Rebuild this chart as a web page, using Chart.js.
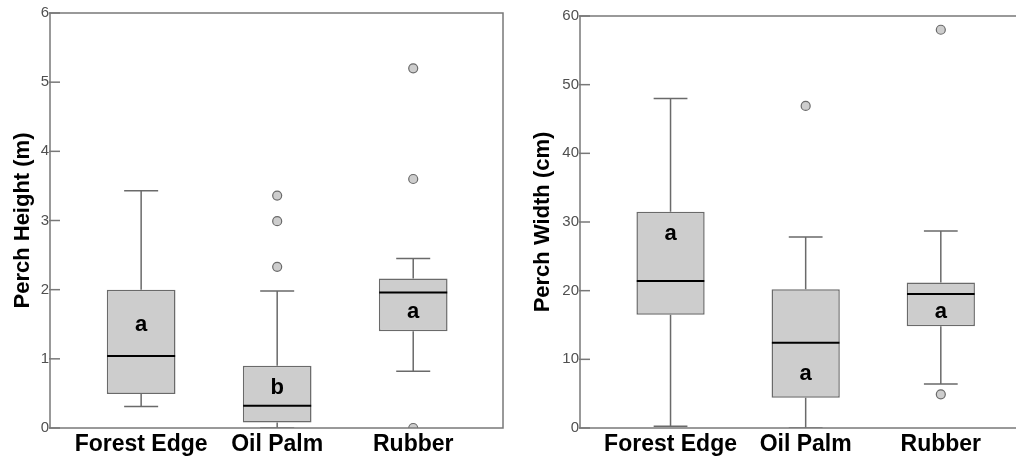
<!DOCTYPE html>
<html>
<head>
<meta charset="utf-8">
<script src="https://cdn.jsdelivr.net/npm/chart.js@4.4.1/dist/chart.umd.min.js"></script>
<style>
body{margin:0;background:#fff;overflow:hidden;width:1016px;height:457px;position:relative}
canvas{position:absolute;top:0}
#graficoAltura{left:0}
#graficoAncho{left:510px}
</style>
</head>
<body>
<canvas id="graficoAltura" width="510" height="457"></canvas>
<canvas id="graficoAncho" width="530" height="457"></canvas>
<script>
const categorias = ['Forest Edge', 'Oil Palm', 'Rubber'];

// Perch Height (m)
const alturaMin = [0.31, 0.0, 0.82];
const alturaQ1 = [0.49, 0.08, 1.40];
const alturaMediana = [1.04, 0.32, 1.96];
const alturaQ3 = [2.0, 0.90, 2.16];
const alturaMax = [3.43, 1.98, 2.45];
const alturaAtipicos = [[], [2.33, 2.99, 3.36], [0.0, 3.60, 5.20]];
const alturaLetras = ['a', 'b', 'a'];
const alturaLetrasY = [1.49, 0.58, 1.68];
const alturaTicks = [0, 1, 2, 3, 4, 5, 6];

// Perch Width (cm)
const anchoMin = [0.25, 0.0, 6.4];
const anchoQ1 = [16.5, 4.4, 14.8];
const anchoMediana = [21.4, 12.4, 19.5];
const anchoQ3 = [31.5, 20.2, 21.2];
const anchoMax = [48.0, 27.8, 28.7];
const anchoAtipicos = [[], [46.9], [4.9, 58.0]];
const anchoLetras = ['a', 'a', 'a'];
const anchoLetrasY = [28.3, 7.9, 16.9];
const anchoTicks = [0, 10, 20, 30, 40, 50, 60];

const fuente = "'Liberation Sans', Arial, sans-serif";
Chart.defaults.font.family = fuente;

// marco, ticks hacia adentro y letras
const marcoPlugin = {
    id: 'marco',
    afterDatasetsDraw(chart, args, opts) {
        const {ctx, chartArea: a, scales: {x, y}} = chart;
        ctx.save();
        ctx.font = 'bold 22px ' + fuente;
        ctx.fillStyle = '#000';
        ctx.textAlign = 'center';
        ctx.textBaseline = 'middle';
        opts.letras.forEach((l, i) => {
            ctx.fillText(l, x.getPixelForValue(i), y.getPixelForValue(opts.letrasY[i]));
        });
        ctx.strokeStyle = '#787878';
        ctx.lineWidth = 1.5;
        ctx.strokeRect(a.left, a.top, a.right - a.left, a.bottom - a.top);
        y.ticks.forEach(t => {
            const py = y.getPixelForValue(t.value);
            ctx.beginPath();
            ctx.moveTo(a.left - 1, py);
            ctx.lineTo(a.left + 10, py);
            ctx.stroke();
        });
        ctx.restore();
    }
};

function crearBoxplot(id, titulo, min, q1, med, q3, max, atipicos, letras, letrasY, ticks, cfg) {
    const cajas = categorias.map((c, i) => ({x: i, y: [q1[i], q3[i]]}));
    const bigotes = [];
    const medianas = [];
    const puntos = [];
    categorias.forEach((c, i) => {
        bigotes.push({x: i, y: q3[i]}, {x: i, y: max[i]}, {x: i, y: null});
        bigotes.push({x: i, y: q1[i]}, {x: i, y: min[i]}, {x: i, y: null});
        bigotes.push({x: i - 0.125, y: max[i]}, {x: i + 0.125, y: max[i]}, {x: i, y: null});
        bigotes.push({x: i - 0.125, y: min[i]}, {x: i + 0.125, y: min[i]}, {x: i, y: null});
        medianas.push({x: i - 0.25, y: med[i]}, {x: i + 0.25, y: med[i]}, {x: i, y: null});
        atipicos[i].forEach(v => puntos.push({x: i, y: v}));
    });

    return new Chart(document.getElementById(id), {
        type: 'bar',
        data: {
            datasets: [{
                type: 'bar',
                data: cajas,
                backgroundColor: '#cdcdcd',
                borderColor: '#6a6a6a',
                borderWidth: 1.5,
                borderSkipped: false,
                barPercentage: 0.505,
                categoryPercentage: 1,
                order: 3
            }, {
                type: 'line',
                data: bigotes,
                borderColor: '#6a6a6a',
                borderWidth: 1.5,
                pointRadius: 0,
                spanGaps: false,
                order: 2
            }, {
                type: 'line',
                data: medianas,
                borderColor: '#000',
                borderWidth: 2,
                pointRadius: 0,
                spanGaps: false,
                order: 1
            }, {
                type: 'scatter',
                data: puntos,
                backgroundColor: '#cdcdcd',
                borderColor: '#6a6a6a',
                borderWidth: 1.2,
                pointRadius: 4.5,
                clip: 0,
                order: 0
            }]
        },
        options: {
            responsive: false,
            animation: false,
            devicePixelRatio: 1,
            layout: {padding: {top: cfg.arriba, right: cfg.derecha, left: 0, bottom: 0}},
            plugins: {
                legend: {display: false},
                tooltip: {enabled: false},
                marco: {letras: letras, letrasY: letrasY}
            },
            scales: {
                x: {
                    type: 'linear',
                    min: -0.67,
                    max: 2.66,
                    offset: false,
                    grid: {display: false, drawTicks: false, offset: false},
                    border: {display: false},
                    afterBuildTicks: (s) => { s.ticks = categorias.map((c, i) => ({value: i})); },
                    afterFit: (s) => { s.height = 29; },
                    ticks: {
                        autoSkip: false,
                        maxRotation: 0,
                        minRotation: 0,
                        padding: 3,
                        color: '#000',
                        font: {size: 23, weight: 'bold'},
                        callback: (v) => categorias[v]
                    }
                },
                y: {
                    type: 'linear',
                    min: ticks[0],
                    max: ticks[ticks.length - 1],
                    grid: {display: false, drawTicks: false},
                    border: {display: false},
                    afterBuildTicks: (s) => { s.ticks = ticks.map(v => ({value: v})); },
                    afterFit: (s) => { s.width = cfg.ejeAncho; },
                    ticks: {
                        padding: 1,
                        color: '#505050',
                        font: {size: 15}
                    },
                    title: {
                        display: true,
                        text: titulo,
                        color: '#000',
                        font: {size: 22, weight: 'bold'},
                        padding: {top: cfg.tituloPad, bottom: 0}
                    }
                }
            }
        },
        plugins: [marcoPlugin]
    });
}

crearBoxplot('graficoAltura', 'Perch Height (m)', alturaMin, alturaQ1, alturaMediana, alturaQ3, alturaMax,
    alturaAtipicos, alturaLetras, alturaLetrasY, alturaTicks, {ejeAncho: 50, arriba: 13, derecha: 7, tituloPad: 10});
crearBoxplot('graficoAncho', 'Perch Width (cm)', anchoMin, anchoQ1, anchoMediana, anchoQ3, anchoMax,
    anchoAtipicos, anchoLetras, anchoLetrasY, anchoTicks, {ejeAncho: 70, arriba: 16, derecha: 10, tituloPad: 20});
</script>
</body>
</html>
